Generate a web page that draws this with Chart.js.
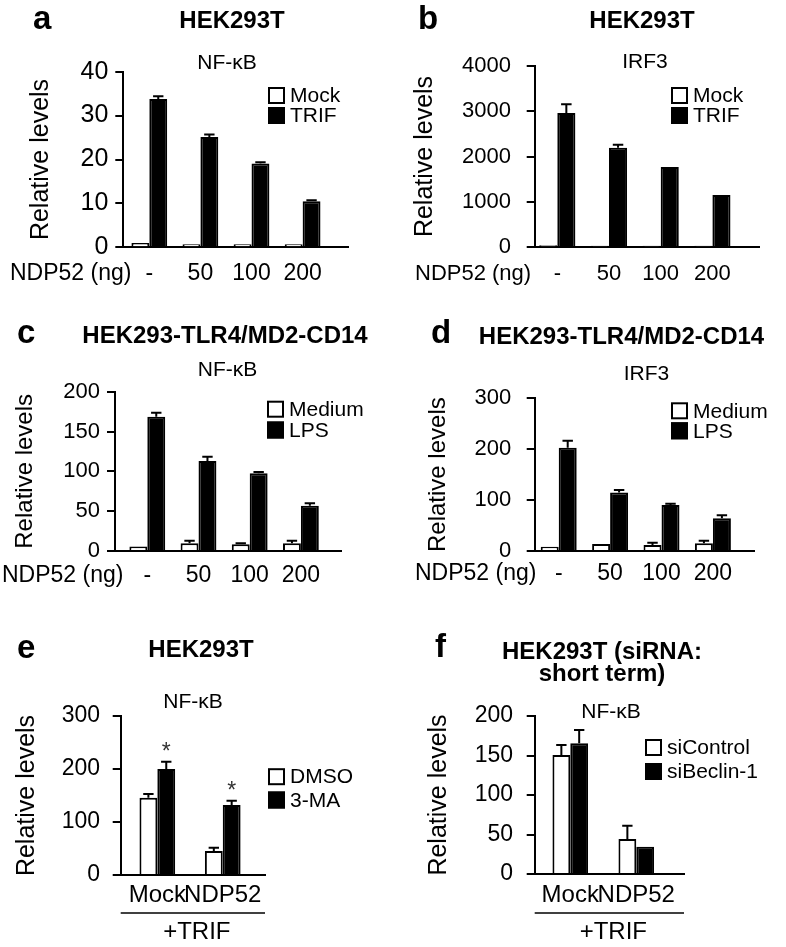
<!DOCTYPE html>
<html lang="en">
<head>
<meta charset="UTF-8">
<title>NDP52 reporter assays</title>
<script src="https://cdn.jsdelivr.net/npm/chart.js"></script>
<style>
  body { margin: 0; background: #fff; font-family: 'Liberation Sans', Arial, Helvetica, sans-serif; }
  #figure { position: relative; width: 786px; height: 947px; overflow: hidden; }
  #figure canvas { position: absolute; }
  .txt { position: absolute; line-height: 1; white-space: nowrap; color: #000; }
</style>
</head>
<body>
<div id="figure"></div>
<script>
// ---- data ----
const doses = ['-', '50', '100', '200'];
const trifGroups = ['Mock', 'NDP52'];

const aMock = [1.0, 0.7, 0.7, 0.7];
const aTrif = [33.8, 25.1, 19.1, 10.5];
const aTrifErr = [0.6, 0.6, 0.3, 0.2];

const bMock = [45, 35, 35, 35];
const bTrif = [2960, 2190, 1770, 1150];
const bTrifErr = [190, 70, 0, 0];

const cMedium = [5.5, 9.6, 8.4, 9.6];
const cMediumErr = [0, 3.4, 1.2, 3.4];
const cLps = [168.6, 113, 97.5, 56.9];
const cLpsErr = [5, 5.4, 1.7, 2.9];

const dMedium = [8.5, 13.8, 11.8, 15];
const dMediumErr = [0, 0, 4.6, 5];
const dLps = [203, 115, 90.4, 64.2];
const dLpsErr = [13.8, 5, 2.6, 5.8];

const eDmso = [145.8, 45.3];
const eDmsoErr = [7, 6.2];
const eMa = [200, 132];
const eMaErr = [13.8, 8.2];
const eMaMarks = ['*', '*'];

const fControl = [150.6, 44.3];
const fControlErr = [12.7, 16.9];
const fBeclin = [165.4, 34.6];
const fBeclinErr = [16.9, 0];

const FONT = '"Liberation Sans", Arial, Helvetica, sans-serif';
Chart.defaults.font.family = FONT;
Chart.defaults.color = '#000';

// error bars, significance marks, legend boxes and extra axis labels
const decor = {
    id: 'decor',
    afterDraw(chart, args, o) {
        const ctx = chart.ctx;
        const y = chart.scales.y;
        const area = chart.chartArea;
        ctx.save();
        ctx.strokeStyle = '#000';
        ctx.lineWidth = 2;

        chart.data.datasets.forEach((ds, di) => {
            const meta = chart.getDatasetMeta(di);
            meta.data.forEach((bar, i) => {
                const err = ds.errors ? ds.errors[i] : 0;
                const top = y.getPixelForValue(ds.data[i].y + err);
                if (err > 0) {
                    const cap = bar.width * 0.58;
                    ctx.beginPath();
                    ctx.moveTo(bar.x, bar.y);
                    ctx.lineTo(bar.x, top);
                    ctx.moveTo(bar.x - cap / 2, top);
                    ctx.lineTo(bar.x + cap / 2, top);
                    ctx.stroke();
                }
                if (ds.marks && ds.marks[i]) {
                    ctx.fillStyle = '#333';
                    ctx.font = '23px ' + FONT;
                    ctx.textAlign = 'center';
                    ctx.textBaseline = 'alphabetic';
                    ctx.fillText(ds.marks[i], bar.x, top - 3);
                }
            });
        });

        // legend
        const lg = o.legend;
        ctx.font = '21px ' + FONT;
        ctx.textAlign = 'left';
        ctx.textBaseline = 'middle';
        chart.data.datasets.forEach((ds, di) => {
            const cy = lg.y + di * lg.gap;
            ctx.fillStyle = ds.backgroundColor;
            ctx.fillRect(lg.x, cy - 8.5, 17, 17);
            ctx.lineWidth = 2;
            ctx.strokeRect(lg.x + 1, cy - 7.5, 15, 15);
            ctx.fillStyle = '#000';
            ctx.fillText(ds.label, lg.x + 22, cy + 1);
        });

        // "NDP52 (ng)" in line with the tick labels
        if (o.xTitle) {
            ctx.font = o.xTitle.size + 'px ' + FONT;
            ctx.textAlign = 'left';
            ctx.textBaseline = 'middle';
            ctx.fillText(o.xTitle.text, o.xTitle.x, area.bottom + o.xTitle.dy);
        }

        // bracket line with "+TRIF"
        if (o.group) {
            const gy = area.bottom + o.group.lineDy;
            ctx.lineWidth = 1.5;
            ctx.beginPath();
            ctx.moveTo(area.left, gy);
            ctx.lineTo(area.right, gy);
            ctx.stroke();
            ctx.font = '24px ' + FONT;
            ctx.textAlign = 'center';
            ctx.textBaseline = 'middle';
            ctx.fillText(o.group.text, (area.left + area.right) / 2 + 4, area.bottom + o.group.textDy);
        }
        ctx.restore();
    }
};

const panels = [
    {
        box: [0, 0, 393, 290], area: [123.3, 71.7, 348.3, 247.3],
        xMin: 0.491, xMax: 4.894, catPct: 0.70, labels: doses,
        yMax: 40, yStep: 10, yFont: 25, yPad: 7, xFont: 23, xPad: 15, titleFont: 25, titleX: 41,
        series: [
            { label: 'Mock', values: aMock, fill: '#fff' },
            { label: 'TRIF', values: aTrif, errors: aTrifErr, fill: '#000' }
        ],
        legend: { x: 268, y: 95.5, gap: 20 }, xTitle: { text: 'NDP52 (ng)', x: 10 },
        letter: ['a', 33, 29], titles: [['HEK293T', 232, 20]], sub: ['NF-\u03baB', 227, 61]
    },
    {
        box: [393, 0, 393, 290], area: [141.7, 65.7, 366.7, 247.3],
        xMin: 0.563, xMax: 4.915, catPct: 0.70, labels: doses,
        yMax: 4000, yStep: 1000, yFont: 22, yPad: 15.7, xFont: 22, xPad: 15.7, titleFont: 25, titleX: 32.5,
        series: [
            { label: 'Mock', values: bMock, fill: '#fff' },
            { label: 'TRIF', values: bTrif, errors: bTrifErr, fill: '#000' }
        ],
        legend: { x: 278, y: 95.5, gap: 20 }, xTitle: { text: 'NDP52 (ng)', x: 22 },
        letter: ['b', 418, 29], titles: [['HEK293T', 642, 20]], sub: ['IRF3', 645, 60]
    },
    {
        box: [0, 290, 393, 310], area: [115, 101.7, 341.7, 261],
        xMin: 0.369, xMax: 4.797, catPct: 0.70, labels: doses,
        yMax: 200, yStep: 50, yFont: 22, yPad: 7, xFont: 23, xPad: 13, titleFont: 24, titleX: 25,
        series: [
            { label: 'Medium', values: cMedium, errors: cMediumErr, fill: '#fff' },
            { label: 'LPS', values: cLps, errors: cLpsErr, fill: '#000' }
        ],
        legend: { x: 267, y: 119.2, gap: 20.8 }, xTitle: { text: 'NDP52 (ng)', x: 2 },
        letter: ['c', 17, 343], titles: [['HEK293-TLR4/MD2-CD14', 225, 335]], sub: ['NF-\u03baB', 227.5, 368]
    },
    {
        box: [393, 290, 393, 310], area: [141.7, 108.3, 361.7, 261],
        xMin: 0.533, xMax: 4.813, catPct: 0.70, labels: doses,
        yMax: 300, yStep: 100, yFont: 22, yPad: 15.4, xFont: 23, xPad: 11.5, titleFont: 24, titleX: 45.8,
        series: [
            { label: 'Medium', values: dMedium, errors: dMediumErr, fill: '#fff' },
            { label: 'LPS', values: dLps, errors: dLpsErr, fill: '#000' }
        ],
        legend: { x: 278, y: 120.8, gap: 20 }, xTitle: { text: 'NDP52 (ng)', x: 22 },
        letter: ['d', 431, 343], titles: [['HEK293-TLR4/MD2-CD14', 621.5, 336]], sub: ['IRF3', 646.5, 371.5]
    },
    {
        box: [0, 600, 393, 347], area: [120.7, 116, 265, 275],
        xMin: 0.44, xMax: 2.646, catPct: 0.546, labels: trifGroups,
        yMax: 300, yStep: 100, yFont: 23, yPad: 12.7, xFont: 24, xPad: 8, titleFont: 25, titleX: 26.7,
        series: [
            { label: 'DMSO', values: eDmso, errors: eDmsoErr, fill: '#fff' },
            { label: '3-MA', values: eMa, errors: eMaErr, marks: eMaMarks, fill: '#000' }
        ],
        legend: { x: 268, y: 176.7, gap: 23.3 }, group: { text: '+TRIF', lineDy: 38, textDy: 57 },
        letter: ['e', 17, 658], titles: [['HEK293T', 201, 648.5]], sub: ['NF-\u03baB', 193, 700]
    },
    {
        box: [393, 600, 393, 347], area: [141.7, 116, 291, 274],
        xMin: 0.461, xMax: 2.723, catPct: 0.54, labels: trifGroups,
        yMax: 200, yStep: 50, yFont: 23, yPad: 13.7, xFont: 24, xPad: 9, titleFont: 25, titleX: 45.8,
        series: [
            { label: 'siControl', values: fControl, errors: fControlErr, fill: '#fff' },
            { label: 'siBeclin-1', values: fBeclin, errors: fBeclinErr, fill: '#000' }
        ],
        legend: { x: 252, y: 147.5, gap: 24 }, group: { text: '+TRIF', lineDy: 39, textDy: 58 },
        letter: ['f', 435, 657],
        titles: [['HEK293T (siRNA:', 602, 651], ['short term)', 602, 673]], sub: ['NF-\u03baB', 611, 710]
    }
];

const fig = document.getElementById('figure');

function addText(text, x, y, size, weight, centered) {
    const d = document.createElement('div');
    d.className = 'txt';
    d.textContent = text;
    d.style.fontSize = size + 'px';
    d.style.fontWeight = weight;
    d.style.left = x + 'px';
    if (centered) {
        d.style.top = y + 'px';
        d.style.transform = 'translate(-50%, -50%)';
    } else {
        // y is the baseline
        d.style.top = (y - 0.8465 * size) + 'px';
    }
    fig.appendChild(d);
}

function makePanel(p) {
    const [bx, by, bw, bh] = p.box;
    const [L, T, R, B] = p.area;
    const canvas = document.createElement('canvas');
    canvas.width = bw;
    canvas.height = bh;
    canvas.style.left = bx + 'px';
    canvas.style.top = by + 'px';
    fig.appendChild(canvas);

    new Chart(canvas, {
        type: 'bar',
        data: {
            datasets: p.series.map(s => ({
                label: s.label,
                data: s.values.map((v, i) => ({ x: i + 1, y: v })),
                errors: s.errors,
                marks: s.marks,
                backgroundColor: s.fill,
                borderColor: '#000',
                borderWidth: 2,
                categoryPercentage: p.catPct,
                barPercentage: 1
            }))
        },
        options: {
            responsive: false,
            animation: false,
            layout: { padding: { left: 0, top: T, right: bw - R, bottom: 0 } },
            plugins: {
                legend: { display: false },
                tooltip: { enabled: false },
                decor: {
                    legend: p.legend,
                    xTitle: p.xTitle ? { text: p.xTitle.text, x: p.xTitle.x, size: p.xFont, dy: p.xPad + p.xFont / 2 } : null,
                    group: p.group || null
                }
            },
            scales: {
                x: {
                    type: 'linear',
                    offset: false,
                    min: p.xMin,
                    max: p.xMax,
                    afterFit: s => { s.height = bh - B; },
                    afterBuildTicks: s => { s.ticks = p.labels.map((_, i) => ({ value: i + 1 })); },
                    grid: { display: false, drawTicks: false, offset: false },
                    border: { color: '#000', width: 2 },
                    ticks: {
                        color: '#000',
                        padding: p.xPad,
                        autoSkip: false,
                        minRotation: 0,
                        maxRotation: 0,
                        font: { size: p.xFont, lineHeight: 1 },
                        callback: v => p.labels[Math.round(v) - 1]
                    }
                },
                y: {
                    min: 0,
                    max: p.yMax,
                    afterFit: s => { s.width = L; },
                    grid: { drawOnChartArea: false, tickLength: 8, color: '#000', lineWidth: 2 },
                    border: { color: '#000', width: 2 },
                    ticks: {
                        stepSize: p.yStep,
                        color: '#000',
                        padding: p.yPad,
                        font: { size: p.yFont, lineHeight: 1 },
                        callback: v => String(v)
                    },
                    title: {
                        display: true,
                        text: 'Relative levels',
                        color: '#000',
                        font: { size: p.titleFont, lineHeight: 1 },
                        padding: { top: p.titleX - p.titleFont / 2, bottom: 0 }
                    }
                }
            }
        },
        plugins: [decor]
    });

    addText(p.letter[0], p.letter[1], p.letter[2], 33, 'bold', false);
    p.titles.forEach(t => addText(t[0], t[1], t[2], 24, 'bold', true));
    addText(p.sub[0], p.sub[1], p.sub[2], 21, 'normal', true);
}

panels.forEach(makePanel);
</script>
</body>
</html>
